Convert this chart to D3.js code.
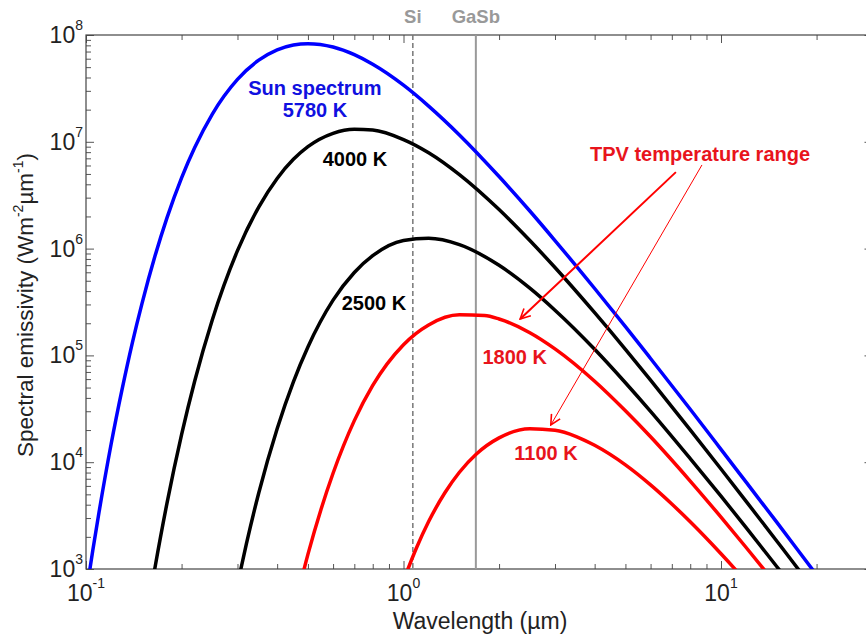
<!DOCTYPE html>
<html>
<head>
<meta charset="utf-8">
<script src="https://cdn.jsdelivr.net/npm/d3@7"></script>
<style>
  body { margin: 0; background: #fff; }
  svg { display: block; font-family: Arial, "Liberation Sans", sans-serif; }
</style>
</head>
<body>
<svg id="chart" width="866" height="635"></svg>
<script>
/* data: wavelength (µm) and spectral emissivity (W m-2 µm-1) */
const sunWl   = [0.1, 0.105, 0.11, 0.12, 0.13, 0.14, 0.15, 0.165, 0.18, 0.2, 0.22, 0.25, 0.3, 0.35, 0.4, 0.45, 0.5, 0.6, 0.7, 0.8, 1, 1.2, 1.5, 2, 2.5, 3, 4, 5, 6, 8, 10, 12, 15, 17, 20];
const sunVal  = [580, 1480, 3450, 14800, 48600, 1.32e5, 3.04e5, 8.55e5, 1.95e6, 4.6e6, 8.85e6, 1.82e7, 3.84e7, 5.81e7, 7.26e7, 8.06e7, 8.3e7, 7.72e7, 6.54e7, 5.32e7, 3.39e7, 2.16e7, 1.16e7, 4.73e6, 2.25e6, 1.19e6, 4.23e5, 1.86e5, 9.36e4, 3.13e4, 1.32e4, 6500, 2730, 1670, 880];

const k4000Wl  = [0.16, 0.165, 0.18, 0.2, 0.22, 0.25, 0.3, 0.35, 0.4, 0.45, 0.5, 0.6, 0.7, 0.8, 1, 1.2, 1.5, 2, 2.5, 3, 4, 5, 6, 8, 10, 12, 15, 17, 18];
const k4000Val = [616, 1040, 4160, 18100, 57600, 2.16e5, 9.56e5, 2.45e6, 4.54e6, 6.85e6, 9.0e6, 1.2e7, 1.31e7, 1.29e7, 1.05e7, 7.9e6, 4.93e6, 2.32e6, 1.19e6, 6.65e5, 2.51e5, 1.14e5, 5.86e4, 2.01e4, 8640, 4300, 1820, 1120, 895];

const k2500Wl  = [0.3, 0.32, 0.35, 0.4, 0.45, 0.5, 0.6, 0.7, 0.8, 1, 1.2, 1.5, 2, 2.5, 3, 4, 5, 6, 8, 10, 12, 15, 16];
const k2500Val = [718, 1720, 5150, 20600, 56600, 1.2e5, 3.29e5, 5.98e5, 8.58e5, 1.19e6, 1.25e6, 1.09e6, 6.97e5, 4.26e5, 2.65e5, 1.14e5, 5.54e4, 2.99e4, 1.08e4, 4810, 2440, 1050, 825];

const k1800Wl  = [0.45, 0.5, 0.55, 0.6, 0.7, 0.8, 1, 1.2, 1.5, 1.8, 2, 2.5, 3, 4, 5, 6, 8, 10, 12, 14];
const k1800Val = [391, 1370, 3630, 7880, 24500, 52300, 1.26e5, 1.93e5, 2.4e5, 2.36e5, 2.19e5, 1.63e5, 1.15e5, 5.73e4, 3.03e4, 1.73e4, 6660, 3060, 1590, 904];

const k1100Wl  = [1, 1.1, 1.2, 1.35, 1.5, 1.7, 2, 2.5, 3, 3.5, 4, 5, 6, 7, 8, 10, 11, 12];
const k1100Val = [781, 1590, 2780, 5170, 8050, 12000, 16900, 20600, 19900, 17400, 14400, 9440, 6130, 4060, 2770, 1390, 1020, 762];

const xMajor = [0.1, 1, 10];
const xMinor = [0.2, 0.3, 0.4, 0.5, 0.6, 0.7, 0.8, 0.9, 2, 3, 4, 5, 6, 7, 8, 9, 20];
const yMajor = [1e3, 1e4, 1e5, 1e6, 1e7, 1e8];
const yMinor = d3.merge([1e3, 1e4, 1e5, 1e6, 1e7].map(d => d3.range(2, 10).map(m => m * d)));

const bandgaps = [{ name: 'Si', wl: 1.07, dash: '5,3' }, { name: 'GaSb', wl: 1.69, dash: null }];

// layout
const pLeft = 86, pTop = 35, pBottom = 569, decade = 317.5;

const svg = d3.select('#chart');

const x = d3.scaleLog().domain([0.1, 30]).range([pLeft, pLeft + decade * Math.log10(300)]);
const y = d3.scaleLog().domain([1e3, 1e8]).range([pBottom, pTop]);
const pRight = x(30);

const defs = svg.append('defs');
defs.append('clipPath').attr('id', 'plot')
  .append('rect')
  .attr('x', pLeft).attr('y', pTop)
  .attr('width', pRight - pLeft).attr('height', pBottom - pTop);

defs.append('marker')
  .attr('id', 'head')
  .attr('viewBox', '0 0 12 12')
  .attr('refX', 11).attr('refY', 6)
  .attr('markerWidth', 12).attr('markerHeight', 12)
  .attr('markerUnits', 'userSpaceOnUse')
  .attr('orient', 'auto')
  .append('path')
  .attr('d', 'M1,1 L11,6 L1,11')
  .attr('fill', 'none')
  .attr('stroke', '#ff0000')
  .attr('stroke-width', 1.6);

// axes: inward ticks on all four sides
function ticks(axis, vals, size, tx, ty) {
  const g = svg.append('g')
    .attr('transform', `translate(${tx},${ty})`)
    .call(axis.tickValues(vals).tickSize(size).tickFormat(''));
  g.select('.domain').remove();
  g.selectAll('line').attr('stroke', '#555');
  return g;
}
ticks(d3.axisBottom(x), xMajor, -8, 0, pBottom);
ticks(d3.axisBottom(x), xMinor, -5, 0, pBottom);
ticks(d3.axisTop(x), xMajor, -8, 0, pTop);
ticks(d3.axisTop(x), xMinor, -5, 0, pTop);
ticks(d3.axisLeft(y), yMajor, -8, pLeft, 0);
ticks(d3.axisLeft(y), yMinor, -5, pLeft, 0);
ticks(d3.axisRight(y), yMajor, -8, pRight, 0);
ticks(d3.axisRight(y), yMinor, -5, pRight, 0);

svg.append('rect')
  .attr('x', pLeft).attr('y', pTop)
  .attr('width', pRight - pLeft).attr('height', pBottom - pTop)
  .attr('fill', 'none').attr('stroke', '#444').attr('stroke-width', 1.2);

// tick labels 10^n
function power(sel, exp) {
  sel.append('tspan').text('10');
  sel.append('tspan').attr('font-size', 14).attr('dy', -13).text(exp);
}
xMajor.forEach(v => {
  svg.append('text')
    .attr('x', x(v)).attr('y', pBottom + 32)
    .attr('text-anchor', 'middle')
    .attr('font-size', 23).attr('fill', '#222')
    .call(power, Math.round(Math.log10(v)));
});
yMajor.forEach(v => {
  svg.append('text')
    .attr('x', pLeft - 3).attr('y', y(v) + 8)
    .attr('text-anchor', 'end')
    .attr('font-size', 23).attr('fill', '#222')
    .call(power, Math.round(Math.log10(v)));
});

// axis titles
svg.append('text')
  .attr('x', 480).attr('y', 629)
  .attr('text-anchor', 'middle')
  .attr('font-size', 23).attr('fill', '#222')
  .text('Wavelength (µm)');

const yt = svg.append('text')
  .attr('transform', 'translate(33,305) rotate(-90)')
  .attr('text-anchor', 'middle')
  .attr('font-size', 22.5).attr('fill', '#222');
yt.append('tspan').text('Spectral emissivity (Wm');
yt.append('tspan').attr('font-size', 14).attr('dy', -10).text('-2');
yt.append('tspan').attr('dy', 10).text('µm');
yt.append('tspan').attr('font-size', 14).attr('dy', -10).text('-1');
yt.append('tspan').attr('dy', 10).text(')');

// band gap lines
bandgaps.forEach(b => {
  svg.append('line')
    .attr('x1', x(b.wl)).attr('x2', x(b.wl))
    .attr('y1', pTop).attr('y2', pBottom)
    .attr('stroke', b.dash ? '#777' : '#999')
    .attr('stroke-width', b.dash ? 1.5 : 2)
    .attr('stroke-dasharray', b.dash);
  svg.append('text')
    .attr('x', x(b.wl)).attr('y', 23)
    .attr('text-anchor', 'middle')
    .attr('font-size', 18.5).attr('font-weight', 'bold')
    .attr('fill', '#999')
    .text(b.name);
});

// curves
const line = d3.line()
  .x(d => x(d[0]))
  .y(d => y(d[1]))
  .curve(d3.curveMonotoneX);

const curves = [
  { wl: sunWl,   val: sunVal,   color: '#0000ff' },
  { wl: k4000Wl, val: k4000Val, color: '#000000' },
  { wl: k2500Wl, val: k2500Val, color: '#000000' },
  { wl: k1800Wl, val: k1800Val, color: '#ff0000' },
  { wl: k1100Wl, val: k1100Val, color: '#ff0000' }
];

const plot = svg.append('g').attr('clip-path', 'url(#plot)');
curves.forEach(c => {
  plot.append('path')
    .datum(d3.zip(c.wl, c.val))
    .attr('d', line)
    .attr('fill', 'none')
    .attr('stroke', c.color)
    .attr('stroke-width', 3.5)
    .attr('stroke-linejoin', 'round');
});

// labels (anchored in data coordinates)
const labels = [
  { text: 'Sun spectrum', wl: 0.526, v: 2.74e7, color: '#1010e0' },
  { text: '5780 K', wl: 0.526, v: 1.71e7, color: '#1010e0' },
  { text: '4000 K', wl: 0.703, v: 5.93e6, color: '#000' },
  { text: '2500 K', wl: 0.807, v: 2.66e5, color: '#000' },
  { text: 'TPV temperature range', wl: 8.59, v: 6.6e6, color: '#e8141c' },
  { text: '1800 K', wl: 2.24, v: 8.3e4, color: '#e8141c' },
  { text: '1100 K', wl: 2.81, v: 1.05e4, color: '#e8141c' }
];
labels.forEach(l => {
  svg.append('text')
    .attr('x', x(l.wl)).attr('y', y(l.v))
    .attr('text-anchor', 'middle')
    .attr('font-size', 20).attr('font-weight', 'bold')
    .attr('fill', l.color)
    .text(l.text);
});

// arrows from the TPV label
const arrows = [
  { from: [7.21, 5.2e6], to: [2.33, 2.19e5], w: 2 },
  { from: [8.71, 6.07e6], to: [2.91, 2.23e4], w: 1 }
];
arrows.forEach(a => {
  svg.append('line')
    .attr('x1', x(a.from[0])).attr('y1', y(a.from[1]))
    .attr('x2', x(a.to[0])).attr('y2', y(a.to[1]))
    .attr('stroke', '#ff0000')
    .attr('stroke-width', a.w)
    .attr('marker-end', 'url(#head)');
});
</script>
</body>
</html>
